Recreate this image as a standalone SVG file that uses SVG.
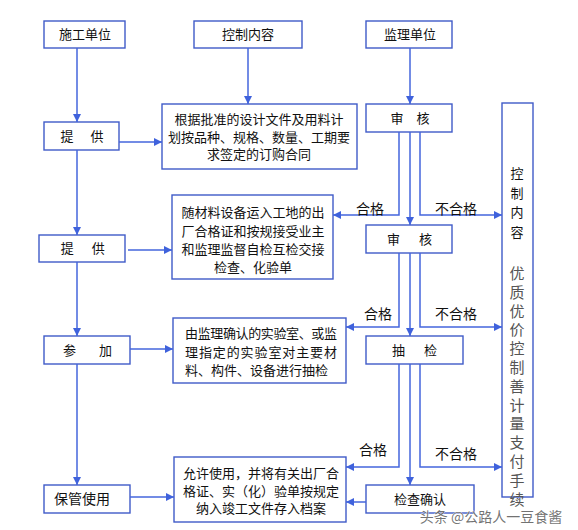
<svg xmlns="http://www.w3.org/2000/svg" width="578" height="530" viewBox="0 0 578 530">
<defs>
<marker id="ah" markerUnits="userSpaceOnUse" markerWidth="9" markerHeight="8" refX="8" refY="4" orient="auto">
<path d="M0,0 L8,4 L0,8 Z" fill="#3f62dc"/>
</marker>
<style>
.box{fill:#fff;stroke:#3f5bc8;stroke-width:1.4}
.t{font-family:"Liberation Sans","Noto Sans CJK SC",sans-serif;font-size:13px;fill:#111;text-anchor:middle}
.tl{font-family:"Liberation Sans","Noto Sans CJK SC",sans-serif;font-size:13px;fill:#111}
.lbl{font-family:"Liberation Sans","Noto Sans CJK SC",sans-serif;font-size:14px;fill:#111;text-anchor:middle}
.c{fill:none;stroke:#4466dd;stroke-width:1.5}
.ca{fill:none;stroke:#4466dd;stroke-width:1.5;marker-end:url(#ah)}
</style>
</defs>
<rect width="578" height="530" fill="#fff"/>

<g id="n-sg"><rect class="box" x="44" y="21" width="81" height="27"/><text class="t" x="85" y="39">施工单位</text></g>
<g id="n-kz"><rect class="box" x="194" y="21" width="108" height="27"/><text class="t" x="248" y="39">控制内容</text></g>
<g id="n-jl"><rect class="box" x="366" y="21" width="86" height="27"/><text class="t" x="410" y="39">监理单位</text></g>

<g id="n-tg1"><rect class="box" x="44" y="122" width="75" height="28"/><text class="t" x="83" y="141" letter-spacing="2">提　供</text></g>
<g id="n-gj"><rect class="box" x="162" y="104" width="195" height="65"/>
<text class="t" x="259" y="124">根据批准的设计文件及用料计</text>
<text class="t" x="259" y="142">划按品种、规格、数量、工期要</text>
<text class="t" x="259" y="159">求签定的订购合同</text></g>
<g id="n-sh1"><rect class="box" x="366" y="104" width="86" height="28"/><text class="t" x="410" y="123">审　核</text></g>

<g id="n-right"><rect class="box" x="502" y="103" width="31" height="394"/>
<text class="t" x="517"><tspan x="517" y="178">控</tspan><tspan x="517" y="198">制</tspan><tspan x="517" y="217">内</tspan><tspan x="517" y="237">容</tspan></text>
<text class="t" x="517" style="font-size:15px;fill:#555"><tspan x="517" y="279">优</tspan><tspan x="517" y="297.8">质</tspan><tspan x="517" y="316.6">优</tspan><tspan x="517" y="335.4">价</tspan><tspan x="517" y="354.2">控</tspan><tspan x="517" y="373">制</tspan><tspan x="517" y="391.8">善</tspan><tspan x="517" y="410.6">计</tspan><tspan x="517" y="429.4">量</tspan><tspan x="517" y="448.2">支</tspan><tspan x="517" y="467">付</tspan><tspan x="517" y="485.8">手</tspan><tspan x="517" y="504.6">续</tspan></text></g>

<g id="n-scl"><rect class="box" x="172" y="195" width="161" height="84"/>
<text class="t" x="253" y="217">随材料设备运入工地的出</text>
<text class="t" x="253" y="235.5">厂合格证和按规接受业主</text>
<text class="t" x="253" y="253.5">和监理监督自检互检交接</text>
<text class="t" x="253" y="271.5">检查、化验单</text></g>
<g id="n-tg2"><rect class="box" x="39" y="235" width="86" height="27"/><text class="t" x="84" y="253" letter-spacing="2.5">提　供</text></g>
<g id="n-sh2"><rect class="box" x="366" y="225" width="86" height="28"/><text class="t" x="411" y="244" letter-spacing="3">审　核</text></g>

<g id="n-cj"><rect class="box" x="44" y="336" width="86" height="28"/><text class="t" x="90" y="355" letter-spacing="5">参　加</text></g>
<g id="n-yjl"><rect class="box" x="173" y="318" width="173" height="65"/>
<text class="tl" x="185" y="338" textLength="152">由监理确认的实验室、或监</text>
<text class="tl" x="185" y="356.5" textLength="152">理指定的实验室对主要材</text>
<text class="tl" x="185" y="375">料、构件、设备进行抽检</text></g>
<g id="n-cj2"><rect class="box" x="366" y="336" width="97" height="28"/><text class="t" x="416" y="355" letter-spacing="3">抽　检</text></g>

<g id="n-bg"><rect class="box" x="44" y="485" width="86" height="28"/><text class="t" x="82" y="504" style="font-size:14px">保管使用</text></g>
<g id="n-yx"><rect class="box" x="174" y="457" width="172" height="65"/>
<text class="t" x="261" y="478">允许使用，并将有关出厂合</text>
<text class="t" x="261" y="495.5">格证、实（化）验单按规定</text>
<text class="t" x="261" y="513">纳入竣工文件存入档案</text></g>
<g id="n-jc"><rect class="box" x="366" y="485" width="108" height="28"/><text class="t" x="420" y="504">检查确认</text></g>

<g id="connectors">
<path class="ca" d="M77,48 V122"/>
<path class="ca" d="M77,150 V235"/>
<path class="ca" d="M77,262 V336"/>
<path class="ca" d="M77,364 V485"/>
<path class="ca" d="M248,48 V104"/>
<path class="ca" d="M410,48 V104"/>
<path class="ca" d="M119,142 H162"/>
<path class="ca" d="M128,250 H172"/>
<path class="ca" d="M130,349 H173"/>
<path class="ca" d="M130,497 H174"/>
<path class="ca" d="M399,132 V215 H333"/>
<path class="ca" d="M410,132 V225"/>
<path class="ca" d="M420,132 V215 H502"/>
<path class="ca" d="M399,253 V327 H346"/>
<path class="ca" d="M410,253 V336"/>
<path class="ca" d="M420,253 V327 H502"/>
<path class="ca" d="M399,364 V467 H346"/>
<path class="ca" d="M410,364 V485"/>
<path class="ca" d="M420,364 V467 H502"/>
<path class="ca" d="M366,502 H346"/>
<text class="lbl" x="370" y="214">合格</text>
<text class="lbl" x="456" y="214">不合格</text>
<text class="lbl" x="378" y="319">合格</text>
<text class="lbl" x="456" y="319">不合格</text>
<text class="lbl" x="373" y="455">合格</text>
<text class="lbl" x="456" y="459">不合格</text>
</g>

<text x="491" y="522" style="font-family:'Noto Sans CJK SC',sans-serif;font-size:14px;fill:#444;fill-opacity:0.75;text-anchor:middle;stroke:#fff;stroke-width:0.6;paint-order:stroke">头条 @公路人一豆食酱</text>
</svg>
